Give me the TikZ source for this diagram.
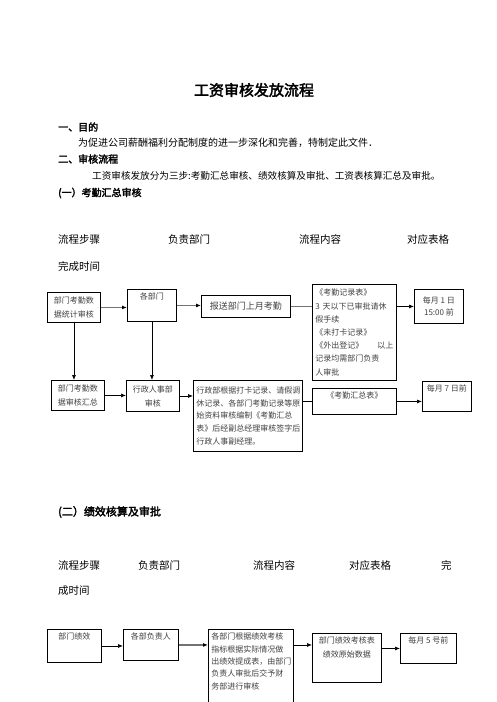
\documentclass[tikz,border=0pt]{standalone}
\usepackage{fontspec}
\setmainfont{Noto Sans CJK SC}[AutoFakeBold=2.5]
\usetikzlibrary{arrows.meta}

\tikzset{
  txt/.style={anchor=west, inner sep=0pt, font=\fontsize{10.5}{12}\selectfont},
  head/.style={txt, font=\fontsize{10}{12}\selectfont\bfseries},
  box/.style={draw, line width=0.9pt, anchor=north west, inner sep=3pt, align=center,
    text=black!75, font=\fontsize{8}{14}\selectfont},
  top/.style={anchor=north, yshift=-4pt, inner sep=0pt, align=center,
    text=black!75, font=\fontsize{8}{14}\selectfont},
  arr/.style={-{Latex[length=5pt,width=4pt,black]}, line width=0.7pt},
  garr/.style={arr, draw=black!55, line width=1.6pt},
  gline/.style={draw=black!55, line width=1.6pt},
  line/.style={draw, line width=0.7pt},
}

\begin{document}
\begin{tikzpicture}[x=1pt,y=-1pt]
	\useasboundingbox (0,0) rectangle (496,702);
	% text above the charts
	\node[font=\fontsize{15}{18}\selectfont\bfseries] (title) at (254,90) {工资审核发放流程};
	\node[head] (goal) at (58,127) {一、目的};
	\node[txt, font=\fontsize{10}{12}\selectfont] (goaltxt) at (78,143) {为促进公司薪酬福利分配制度的进一步深化和完善，特制定此文件．};
	\node[head] (flow) at (58,159) {二、审核流程};
	\node[txt, font=\fontsize{9.6}{12}\selectfont] (flowtxt) at (92,176) {工资审核发放分为三步:考勤汇总审核、绩效核算及审批、工资表核算汇总及审批。};
	\node[head] (part1) at (58,193) {(一）考勤汇总审核};
	
	\node[txt] (steps1) at (58,239) {流程步骤};
	\node[txt] (dept1) at (168,239) {负责部门};
	\node[txt] (cont1) at (299,239) {流程内容};
	\node[txt] (form1) at (407,239) {对应表格};
	\node[txt] (time1) at (58,266) {完成时间};
	
	% chart one
	\node[box, minimum width=53pt, minimum height=30pt] (a) at (47,292) {部门考勤数\\据统计审核};
	\node[box, minimum width=49pt, minimum height=32pt, label={[top]north:各部门}] (b) at (127,289) {};
	\node[box, minimum width=89pt, minimum height=22pt, font=\fontsize{9}{11}\selectfont] (c) at (201,295) {报送部门上月考勤};
	\node[box, minimum width=84pt, minimum height=96pt, align=left, text width=78pt, font=\fontsize{8}{13.2}\selectfont] (d) at (312,284) {《考勤记录表》\\3 天以下已审批请休\\假手续\\《未打卡记录》\\《外出登记》\hspace{14pt}以上\\记录均需部门负责\\人审批};
	\node[box, minimum width=49pt, minimum height=34pt, font=\fontsize{8}{12}\selectfont] (e) at (414,289) {每月 1 日\\15:00 前};
	
	\node[box, minimum width=53pt, minimum height=30pt] (f) at (51,380) {部门考勤数\\据审核汇总};
	\node[box, minimum width=53pt, minimum height=31pt] (g) at (126,380) {行政人事部\\审核};
	\node[box, minimum width=109pt, minimum height=71pt, align=left, text width=103pt, font=\fontsize{8}{12.8}\selectfont] (h) at (193,380) {行政部根据打卡记录、请假调\\休记录、各部门考勤记录等原\\始资料审核编制《考勤汇总\\表》后经副总经理审核签字后\\行政人事副经理。};
	\node[box, minimum width=84pt, minimum height=26pt, label={[top]north:《考勤汇总表》}] (i) at (312,388) {};
	\node[box, minimum width=49pt, minimum height=30pt, label={[top]north:每月 7 日前}] (j) at (422,381) {};
	
	\draw[garr] (a.east) -- (a.east -| b.west);
	\draw[garr] (b.east) -- (b.east -| c.west);
	\draw[gline] (c.east) -- (c.east -| d.west);
	\draw[arr] (e.west -| d.east) -- (e.west);
	\draw[arr] (a.south) -- (a.south |- f.north);
	\draw[arr] (b.south) -- (b.south |- g.north);
	\draw[arr] (f.east) -- (f.east -| g.west);
	\draw[arr] (g.east) -- (g.east -| h.west);
	\draw[line] (i.west -| h.east) -- (i.west);
	\draw[arr] (i.east) -- (i.east -| j.west);
	
	% chart two
	\node[head, font=\fontsize{11}{13}\selectfont\bfseries] (part2) at (58,512) {(二）绩效核算及审批};
	\node[txt] (steps2) at (58,565) {流程步骤};
	\node[txt] (dept2) at (138,565) {负责部门};
	\node[txt] (cont2) at (253,565) {流程内容};
	\node[txt] (form2) at (349,565) {对应表格};
	\node[txt] (time2a) at (441,565) {完};
	\node[txt] (time2b) at (58,591) {成时间};
	
	\node[box, minimum width=54pt, minimum height=33pt, label={[top]north:部门绩效}] (k) at (47,629) {};
	\node[box, minimum width=55pt, minimum height=31pt, label={[top]north:各部负责人}] (l) at (123,629) {};
	\node[box, minimum width=85pt, minimum height=82pt, label={[top, align=left, text width=79pt, font=\fontsize{8}{12.3}\selectfont]north:各部门根据绩效考核\\指标根据实际情况做\\出绩效提成表，由部门\\负责人审批后交予财\\务部进行审核}] (m) at (208,629) {};
	\node[box, minimum width=69pt, minimum height=49pt, label={[top]north:部门绩效考核表\\绩效原始数据}] (n) at (312,633) {};
	\node[box, minimum width=56pt, minimum height=30pt, label={[top]north:每月 5 号前}] (o) at (400,633) {};
	
	\draw[arr] (k.east) -- (k.east -| l.west);
	\draw[garr] (l.east) -- (l.east -| m.west);
	\draw[arr] (m.east |- l.east) -- (n.west |- l.east);
	\draw[arr] (o.west -| n.east) -- (o.west);
\end{tikzpicture}
\end{document}
